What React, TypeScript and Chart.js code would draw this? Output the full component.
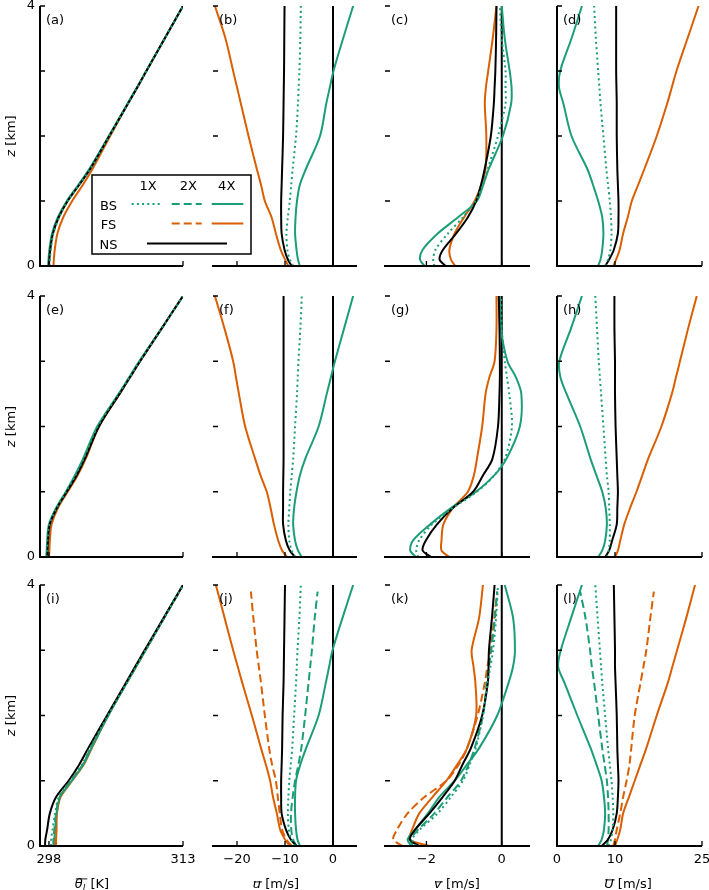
import React, { useEffect, useRef } from 'react';
import { Chart, registerables } from 'chart.js';
Chart.register(...registerables);

const GREEN = '#1b9e77';
const ORANGE = '#d95f02';
const BLACK = '#000000';
const FONT = "'DejaVu Sans', sans-serif";

// heights (km)
const Z = [0, 0.1, 0.25, 0.5, 0.75, 1.0, 1.25, 1.5, 2.0, 2.5, 2.75, 3.0, 3.5, 4.0];
const Z2X = [0, 0.1, 0.25, 0.5, 0.75, 1.0, 1.25, 1.5, 2.0, 2.5, 2.75, 3.0, 3.5, 3.9];
const Y_TICKS = [0, 1, 2, 3, 4];
const ZERO_X = [0, 0];
const ZERO_Z = [0, 4];

// ---- row 1 ----
const a_NS = [298.0, 298.05, 298.15, 298.45, 299.1, 300.1, 301.4, 302.65, 304.75, 306.85, 307.9, 308.9, 310.95, 313.0];
const a_BS1 = [298.05, 298.1, 298.2, 298.5, 299.15, 300.1, 301.4, 302.65, 304.75, 306.85, 307.9, 308.9, 310.95, 313.0];
const a_BS4 = [297.9, 297.95, 298.05, 298.35, 299.0, 300.0, 301.3, 302.55, 304.7, 306.8, 307.85, 308.9, 310.95, 313.0];
const a_FS4 = [298.5, 298.55, 298.65, 298.95, 299.6, 300.6, 301.8, 302.9, 304.85, 306.85, 307.9, 308.9, 310.95, 313.0];

const b_NS = [-8.6, -9.4, -10.1, -10.7, -10.8, -10.8, -10.7, -10.6, -10.4, -10.3, -10.25, -10.2, -10.15, -10.1];
const b_BS1 = [-8.3, -9.0, -9.5, -9.7, -9.4, -9.0, -8.7, -8.4, -7.7, -7.3, -7.15, -7.0, -6.8, -6.7];
const b_BS4 = [-6.9, -7.3, -7.6, -7.9, -7.8, -7.5, -6.9, -5.6, -2.7, -1.4, -0.65, 0.1, 2.1, 4.2];
const b_FS4 = [-9.3, -10.0, -10.9, -11.9, -12.8, -14.2, -15.0, -15.9, -17.6, -19.2, -20.0, -20.8, -22.4, -24.6];

const c_NS = [-1.49, -1.65, -1.56, -1.21, -0.9, -0.68, -0.55, -0.45, -0.29, -0.21, -0.19, -0.17, -0.15, -0.14];
const c_BS1 = [-1.79, -1.82, -1.76, -1.43, -1.03, -0.7, -0.5, -0.37, -0.1, 0.1, 0.1, 0.1, 0.0, -0.05];
const c_BS4 = [-2.05, -2.17, -2.1, -1.7, -1.16, -0.66, -0.49, -0.34, 0.03, 0.25, 0.26, 0.21, 0.08, 0.0];
const c_FS4 = [-1.23, -1.35, -1.39, -1.25, -1.0, -0.72, -0.54, -0.43, -0.41, -0.45, -0.42, -0.36, -0.24, -0.14];

const d_NS = [8.3, 9.0, 9.8, 10.5, 10.6, 10.6, 10.5, 10.4, 10.3, 10.3, 10.25, 10.2, 10.2, 10.2];
const d_BS1 = [8.3, 8.8, 9.2, 9.4, 9.3, 9.1, 8.8, 8.5, 8.0, 7.5, 7.3, 7.1, 6.7, 6.4];
const d_BS4 = [7.1, 7.5, 7.8, 8.0, 7.8, 7.1, 6.2, 5.2, 2.5, 1.1, 0.35, 0.55, 2.5, 4.3];
const d_FS4 = [9.7, 10.2, 10.8, 11.4, 12.2, 12.9, 14.0, 15.1, 17.2, 19.0, 19.8, 20.6, 22.5, 24.4];

// ---- row 2 ----
const e_NS = [297.8, 297.85, 297.9, 298.1, 298.9, 300.0, 301.1, 302.0, 303.6, 305.9, 307.05, 308.2, 310.6, 313.0];
const e_BS1 = [297.75, 297.8, 297.85, 298.05, 298.85, 299.9, 300.95, 301.85, 303.45, 305.8, 307.0, 308.15, 310.6, 313.0];
const e_BS4 = [297.7, 297.75, 297.8, 298.0, 298.8, 299.9, 300.9, 301.8, 303.4, 305.8, 306.95, 308.1, 310.6, 313.0];
const e_FS4 = [298.0, 298.05, 298.1, 298.3, 299.0, 300.1, 301.2, 302.1, 303.6, 305.9, 307.05, 308.2, 310.6, 313.0];

const f_NS = [-7.9, -9.0, -9.8, -10.4, -10.4, -10.4, -10.35, -10.3, -10.3, -10.3, -10.3, -10.3, -10.3, -10.3];
const f_BS1 = [-7.9, -8.6, -9.1, -9.3, -9.1, -8.9, -8.6, -8.3, -7.9, -7.5, -7.35, -7.2, -6.8, -6.5];
const f_BS4 = [-6.5, -7.3, -7.9, -8.3, -8.1, -7.6, -6.9, -5.8, -3.0, -1.3, -0.45, 0.4, 2.3, 4.2];
const f_FS4 = [-9.6, -10.6, -11.4, -12.3, -13.0, -13.8, -15.1, -16.2, -18.3, -19.6, -20.2, -20.8, -22.6, -24.6];

const g_NS = [-1.87, -2.1, -2.02, -1.72, -1.3, -0.76, -0.5, -0.25, -0.1, -0.06, -0.05, -0.05, -0.06, -0.08];
const g_BS1 = [-2.22, -2.27, -2.2, -1.85, -1.3, -0.66, -0.2, 0.08, 0.27, 0.2, 0.14, 0.08, 0.0, -0.02];
const g_BS4 = [-2.28, -2.43, -2.36, -1.9, -1.35, -0.68, -0.2, 0.12, 0.48, 0.52, 0.38, 0.15, -0.02, -0.05];
const g_FS4 = [-1.39, -1.6, -1.6, -1.55, -1.3, -0.9, -0.74, -0.66, -0.52, -0.43, -0.33, -0.19, -0.14, -0.14];

const h_NS = [8.3, 9.0, 9.5, 10.3, 10.4, 10.5, 10.4, 10.3, 10.1, 10.0, 10.0, 10.0, 9.9, 9.9];
const h_BS1 = [8.6, 8.9, 9.1, 9.1, 9.0, 8.9, 8.6, 8.4, 8.0, 7.6, 7.4, 7.2, 6.9, 6.6];
const h_BS4 = [7.1, 7.8, 8.3, 8.6, 8.4, 7.8, 6.8, 5.8, 4.0, 1.65, 0.6, 0.4, 2.4, 4.3];
const h_FS4 = [10.0, 10.5, 10.9, 11.6, 12.6, 13.7, 14.7, 15.7, 18.0, 19.8, 20.5, 21.2, 22.6, 24.1];

// ---- row 3 ----
const i_NS = [297.56, 297.6, 297.8, 298.1, 298.8, 300.2, 301.4, 302.4, 304.5, 306.6, 307.65, 308.7, 310.85, 313.0];
const i_BS1 = [298.2, 298.25, 298.4, 298.7, 299.1, 300.4, 301.7, 302.6, 304.6, 306.7, 307.75, 308.8, 310.9, 313.0];
const i_BS2 = [298.5, 298.5, 298.6, 298.8, 299.2, 300.5, 301.8, 302.7, 304.6, 306.7, 307.75, 308.8, 310.9, 312.6];
const i_BS4 = [298.6, 298.6, 298.7, 298.85, 299.25, 300.55, 301.85, 302.75, 304.65, 306.7, 307.75, 308.8, 310.9, 313.0];
const i_FS2 = [298.7, 298.7, 298.75, 298.85, 299.25, 300.5, 301.8, 302.7, 304.6, 306.7, 307.75, 308.8, 310.9, 312.6];
const i_FS4 = [298.8, 298.8, 298.85, 298.9, 299.3, 300.6, 301.9, 302.8, 304.6, 306.7, 307.75, 308.8, 310.9, 313.0];

const j_NS = [-7.6, -8.8, -9.8, -10.7, -10.8, -10.8, -10.7, -10.6, -10.5, -10.3, -10.25, -10.2, -10.1, -10.0];
const j_BS1 = [-7.9, -8.7, -9.2, -9.4, -9.3, -9.1, -8.8, -8.5, -8.1, -7.7, -7.55, -7.4, -7.0, -6.7];
const j_BS2 = [-7.6, -8.3, -8.7, -8.75, -8.4, -7.9, -7.2, -6.6, -5.8, -5.1, -4.75, -4.4, -3.8, -3.2];
const j_BS4 = [-6.9, -7.4, -7.7, -7.9, -7.9, -7.7, -6.8, -5.6, -3.0, -1.5, -0.8, -0.1, 2.0, 4.2];
const j_FS2 = [-8.6, -9.7, -10.6, -11.1, -11.5, -11.9, -12.7, -13.3, -14.2, -15.0, -15.45, -15.9, -16.6, -17.1];
const j_FS4 = [-9.0, -10.0, -11.0, -11.7, -12.5, -13.1, -14.0, -15.0, -16.9, -18.9, -19.85, -20.8, -22.6, -24.4];

const k_NS = [-2.19, -2.44, -2.3, -1.92, -1.57, -1.25, -1.04, -0.82, -0.52, -0.37, -0.35, -0.34, -0.26, -0.19];
const k_BS1 = [-2.27, -2.38, -2.18, -1.7, -1.35, -1.03, -0.85, -0.69, -0.5, -0.38, -0.3, -0.23, -0.15, -0.1];
const k_BS2 = [-2.36, -2.42, -2.22, -1.79, -1.44, -1.08, -0.88, -0.72, -0.5, -0.4, -0.34, -0.28, -0.18, -0.12];
const k_BS4 = [-2.4, -2.5, -2.3, -1.96, -1.66, -1.25, -0.92, -0.6, -0.12, 0.18, 0.3, 0.35, 0.3, 0.08];
const k_FS2 = [-2.63, -2.88, -2.78, -2.5, -2.05, -1.47, -1.14, -0.92, -0.64, -0.45, -0.38, -0.3, -0.2, -0.12];
const k_FS4 = [-1.92, -2.45, -2.38, -2.19, -1.84, -1.47, -1.18, -0.92, -0.68, -0.7, -0.75, -0.8, -0.6, -0.5];

const l_NS = [7.7, 8.8, 9.6, 10.3, 10.5, 10.6, 10.5, 10.4, 10.3, 10.1, 10.0, 10.0, 9.9, 9.8];
const l_BS1 = [8.9, 9.3, 9.6, 9.7, 9.6, 9.4, 9.1, 8.8, 8.3, 7.8, 7.6, 7.4, 7.0, 6.6];
const l_BS2 = [8.6, 8.8, 8.9, 8.9, 8.8, 8.6, 8.2, 7.8, 7.1, 6.4, 6.0, 5.7, 4.9, 4.0];
const l_BS4 = [7.1, 7.7, 8.1, 8.3, 8.1, 7.7, 6.8, 5.8, 3.5, 1.3, 0.2, 0.65, 2.45, 4.3];
const l_FS2 = [9.7, 10.0, 10.3, 10.9, 11.4, 12.0, 12.5, 12.8, 13.4, 14.4, 14.9, 15.4, 16.1, 16.7];
const l_FS4 = [10.0, 10.4, 10.9, 11.4, 12.4, 13.4, 14.4, 15.4, 17.2, 19.1, 19.9, 20.7, 22.3, 23.8];

// ---- axes ----
const X_RANGES = [[297, 313], [-25, 5], [-3.1, 0.75], [0, 25]];
const X_TICKS = [[298, 313], [-20, -10, 0], [-2, 0], [0, 10, 25]];
const ZERO_LINE = [false, true, true, false];
const X_TITLES = [
  { v: 'θ', sub: 'l', rest: ' [K]' },
  { v: 'u', sub: '', rest: ' [m/s]' },
  { v: 'v', sub: '', rest: ' [m/s]' },
  { v: 'U', sub: '', rest: ' [m/s]' },
];

// ---- layout ----
const COL_L = [40, 213, 385, 557];
const COL_R = [183, 357, 530, 702];
const ROW_T = [6, 296, 585];
const ROW_B = [266, 557, 846];
const X_TITLE_CX = [92, 276, 457, 628];
const X_TITLE_CY = 883;
const Y_TITLE_CX = 10;

const STYLES: Record<string, { color: string; dash: number[] }> = {
  BS1: { color: GREEN, dash: [2, 3.2] },
  BS2: { color: GREEN, dash: [8, 4] },
  BS4: { color: GREEN, dash: [] },
  FS2: { color: ORANGE, dash: [8, 4] },
  FS4: { color: ORANGE, dash: [] },
  NS: { color: BLACK, dash: [] },
};
const DRAW_ORDER = ['BS1', 'NS', 'BS2', 'FS2', 'BS4', 'FS4'];

type Panel = { label: string; row: number; col: number; series: Record<string, number[]> };
const PANELS: Panel[] = [
  { label: '(a)', row: 0, col: 0, series: { NS: a_NS, BS1: a_BS1, BS4: a_BS4, FS4: a_FS4 } },
  { label: '(b)', row: 0, col: 1, series: { NS: b_NS, BS1: b_BS1, BS4: b_BS4, FS4: b_FS4 } },
  { label: '(c)', row: 0, col: 2, series: { NS: c_NS, BS1: c_BS1, BS4: c_BS4, FS4: c_FS4 } },
  { label: '(d)', row: 0, col: 3, series: { NS: d_NS, BS1: d_BS1, BS4: d_BS4, FS4: d_FS4 } },
  { label: '(e)', row: 1, col: 0, series: { NS: e_NS, BS1: e_BS1, BS4: e_BS4, FS4: e_FS4 } },
  { label: '(f)', row: 1, col: 1, series: { NS: f_NS, BS1: f_BS1, BS4: f_BS4, FS4: f_FS4 } },
  { label: '(g)', row: 1, col: 2, series: { NS: g_NS, BS1: g_BS1, BS4: g_BS4, FS4: g_FS4 } },
  { label: '(h)', row: 1, col: 3, series: { NS: h_NS, BS1: h_BS1, BS4: h_BS4, FS4: h_FS4 } },
  { label: '(i)', row: 2, col: 0, series: { NS: i_NS, BS1: i_BS1, BS2: i_BS2, BS4: i_BS4, FS2: i_FS2, FS4: i_FS4 } },
  { label: '(j)', row: 2, col: 1, series: { NS: j_NS, BS1: j_BS1, BS2: j_BS2, BS4: j_BS4, FS2: j_FS2, FS4: j_FS4 } },
  { label: '(k)', row: 2, col: 2, series: { NS: k_NS, BS1: k_BS1, BS2: k_BS2, BS4: k_BS4, FS2: k_FS2, FS4: k_FS4 } },
  { label: '(l)', row: 2, col: 3, series: { NS: l_NS, BS1: l_BS1, BS2: l_BS2, BS4: l_BS4, FS2: l_FS2, FS4: l_FS4 } },
];

function geom(row: number, col: number) {
  const padL = col === 0 ? 40 : 12;
  const padR = 14;
  const padT = 6;
  const padB = row === 2 ? 44 : 8;
  const x = COL_L[col] - padL;
  const y = ROW_T[row] - padT;
  const w = COL_R[col] - COL_L[col] + padL + padR;
  const h = ROW_B[row] - ROW_T[row] + padT + padB;
  return { padL, padR, padT, padB, x, y, w, h };
}

const fmt = (v: number) => (v < 0 ? '\u2212' + Math.abs(v) : String(v));

function drawMath(ctx: CanvasRenderingContext2D, cx: number, cy: number, v: string, sub: string, rest: string, bar: boolean) {
  const fi = `italic 13px ${FONT}`;
  const fs = `italic 9px ${FONT}`;
  const fn = `13px ${FONT}`;
  ctx.font = fi;
  const mv = ctx.measureText(v);
  const wv = mv.width;
  const asc = mv.actualBoundingBoxAscent || 9;
  ctx.font = fs;
  const ws = sub ? ctx.measureText(sub).width + 1 : 0;
  ctx.font = fn;
  const wr = ctx.measureText(rest).width;
  const total = wv + ws + wr;
  let x = cx - total / 2;
  const base = cy + 4.5;
  ctx.textBaseline = 'alphabetic';
  ctx.textAlign = 'left';
  ctx.fillStyle = '#000';
  ctx.font = fi;
  ctx.fillText(v, x, base);
  if (bar) {
    ctx.strokeStyle = '#000';
    ctx.lineWidth = 0.9;
    ctx.beginPath();
    const yb = base - asc - 2;
    ctx.moveTo(x + 1, yb);
    ctx.lineTo(x + wv + ws + 1, yb);
    ctx.stroke();
  }
  x += wv;
  if (sub) {
    ctx.font = fs;
    ctx.fillText(sub, x, base + 3);
    x += ws;
  }
  ctx.font = fn;
  ctx.fillText(rest, x, base);
}

function makeChart(canvas: HTMLCanvasElement, p: Panel) {
  const g = geom(p.row, p.col);
  const datasets: any[] = [];
  for (const kind of DRAW_ORDER) {
    const arr = p.series[kind];
    if (!arr) continue;
    const zs = kind.endsWith('2') ? Z2X : Z;
    datasets.push({
      data: zs.map((z, i) => ({ x: arr[i], y: z })),
      showLine: true,
      borderColor: STYLES[kind].color,
      borderWidth: 2,
      borderDash: STYLES[kind].dash,
      pointRadius: 0,
      tension: 0.3,
      fill: false,
    });
  }
  if (ZERO_LINE[p.col]) {
    datasets.push({
      data: ZERO_X.map((x, i) => ({ x, y: ZERO_Z[i] })),
      showLine: true,
      borderColor: BLACK,
      borderWidth: 2,
      pointRadius: 0,
      tension: 0,
      fill: false,
    });
  }
  const deco = {
    id: 'deco',
    afterDraw(chart: any) {
      const ctx: CanvasRenderingContext2D = chart.ctx;
      const { left, right, top, bottom } = chart.chartArea;
      const xs = chart.scales.x;
      const ys = chart.scales.y;
      ctx.save();
      ctx.strokeStyle = '#000';
      ctx.lineWidth = 2;
      ctx.beginPath();
      if (p.col === 0 || p.col === 3) {
        ctx.moveTo(left, top);
        ctx.lineTo(left, bottom + 1);
      }
      ctx.moveTo(left - 1, bottom);
      ctx.lineTo(right, bottom);
      ctx.stroke();
      ctx.lineWidth = 1.3;
      ctx.beginPath();
      for (const v of Y_TICKS) {
        const y = ys.getPixelForValue(v);
        ctx.moveTo(left, y);
        ctx.lineTo(left + 5, y);
      }
      for (const v of X_TICKS[p.col]) {
        const x = xs.getPixelForValue(v);
        ctx.moveTo(x, bottom);
        ctx.lineTo(x, bottom - 5);
      }
      ctx.stroke();
      ctx.fillStyle = '#000';
      ctx.font = `13px ${FONT}`;
      ctx.textBaseline = 'middle';
      ctx.textAlign = 'left';
      ctx.fillText(p.label, left + 6, top + 15);
      if (p.col === 0) {
        ctx.save();
        ctx.translate(Y_TITLE_CX - g.x, (ROW_T[p.row] + ROW_B[p.row]) / 2 - g.y);
        ctx.rotate(-Math.PI / 2);
        drawMath(ctx, 0, 0, 'z', '', ' [km]', false);
        ctx.restore();
      }
      if (p.row === 2) {
        const t = X_TITLES[p.col];
        drawMath(ctx, X_TITLE_CX[p.col] - g.x, X_TITLE_CY - g.y, t.v, t.sub, t.rest, true);
      }
      ctx.restore();
    },
  };
  return new Chart(canvas, {
    type: 'scatter',
    data: { datasets },
    options: {
      animation: false,
      responsive: false,
      events: [],
      layout: { padding: { top: g.padT, right: g.padR, left: 0, bottom: 0 } },
      plugins: { legend: { display: false }, tooltip: { enabled: false } },
      scales: {
        x: {
          type: 'linear',
          position: 'bottom',
          min: X_RANGES[p.col][0],
          max: X_RANGES[p.col][1],
          grid: { display: false, drawTicks: false },
          border: { display: false },
          ticks: {
            display: p.row === 2,
            padding: 6,
            autoSkip: false,
            maxRotation: 0,
            color: '#000',
            font: { family: FONT, size: 13 },
            callback: (v: any) => fmt(Number(v)),
          },
          afterBuildTicks: (s: any) => {
            s.ticks = X_TICKS[p.col].map((v) => ({ value: v }));
          },
          afterFit: (s: any) => {
            s.height = g.padB;
            s.paddingLeft = 0;
            s.paddingRight = 0;
            s.paddingTop = 0;
            s.paddingBottom = 0;
          },
        },
        y: {
          type: 'linear',
          position: 'left',
          min: 0,
          max: 4,
          grid: { display: false, drawTicks: false },
          border: { display: false },
          ticks: {
            display: p.col === 0,
            padding: 5,
            autoSkip: false,
            color: '#000',
            font: { family: FONT, size: 13 },
            callback: (v: any) => (Number(v) === 0 || Number(v) === 4 ? String(v) : ''),
          },
          afterBuildTicks: (s: any) => {
            s.ticks = Y_TICKS.map((v) => ({ value: v }));
          },
          afterFit: (s: any) => {
            s.width = g.padL;
            s.paddingLeft = 0;
            s.paddingRight = 0;
            s.paddingTop = 0;
            s.paddingBottom = 0;
          },
        },
      },
    } as any,
    plugins: [deco],
  });
}

// legend geometry (overlay canvas at page 90,173)
const LEG_X = 90;
const LEG_Y = 173;
const LEG_W = 164;
const LEG_H = 84;
const LEG_COLS = ['1X', '2X', '4X'];
const LEG_ROWS = ['BS', 'FS', 'NS'];

function drawLegend(cv: HTMLCanvasElement) {
  const ctx = cv.getContext('2d')!;
  ctx.clearRect(0, 0, LEG_W, LEG_H);
  ctx.fillStyle = '#fff';
  ctx.fillRect(2, 2, 159, 79);
  ctx.strokeStyle = '#000';
  ctx.lineWidth = 1.5;
  ctx.strokeRect(2, 2, 159, 79);
  ctx.fillStyle = '#000';
  ctx.font = `13px ${FONT}`;
  ctx.textAlign = 'center';
  ctx.textBaseline = 'middle';
  const colX = [58, 98.3, 136.7];
  LEG_COLS.forEach((t, i) => ctx.fillText(t, colX[i], 14));
  const rowY = [33.5, 53, 73];
  LEG_ROWS.forEach((t, i) => ctx.fillText(t, 18.5, rowY[i]));
  const seg = (x0: number, x1: number, y: number, color: string, dash: number[]) => {
    ctx.strokeStyle = color;
    ctx.lineWidth = 2;
    ctx.setLineDash(dash);
    ctx.beginPath();
    ctx.moveTo(x0, y);
    ctx.lineTo(x1, y);
    ctx.stroke();
  };
  seg(41.7, 70, 31, GREEN, STYLES.BS1.dash);
  seg(81.7, 111.7, 31, GREEN, STYLES.BS2.dash);
  seg(121.7, 153.3, 31, GREEN, []);
  seg(81.7, 111.7, 50.5, ORANGE, STYLES.FS2.dash);
  seg(121.7, 153.3, 50.5, ORANGE, []);
  seg(57, 137, 70.5, BLACK, []);
  ctx.setLineDash([]);
}

export default function App() {
  const refs = useRef<(HTMLCanvasElement | null)[]>([]);
  const legendRef = useRef<HTMLCanvasElement | null>(null);
  useEffect(() => {
    const charts = PANELS.map((p, i) => makeChart(refs.current[i]!, p));
    if (legendRef.current) drawLegend(legendRef.current);
    return () => charts.forEach((c) => c.destroy());
  }, []);
  return (
    <div style={{ position: 'absolute', left: 0, top: 0, width: 709, height: 890, background: '#fff', overflow: 'hidden' }}>
      {PANELS.map((p, i) => {
        const g = geom(p.row, p.col);
        return (
          <canvas
            key={i}
            ref={(el) => {
              refs.current[i] = el;
            }}
            width={g.w}
            height={g.h}
            style={{ position: 'absolute', left: g.x, top: g.y, width: g.w, height: g.h }}
          />
        );
      })}
      <canvas
        ref={legendRef}
        width={LEG_W}
        height={LEG_H}
        style={{ position: 'absolute', left: LEG_X, top: LEG_Y, width: LEG_W, height: LEG_H }}
      />
    </div>
  );
}
